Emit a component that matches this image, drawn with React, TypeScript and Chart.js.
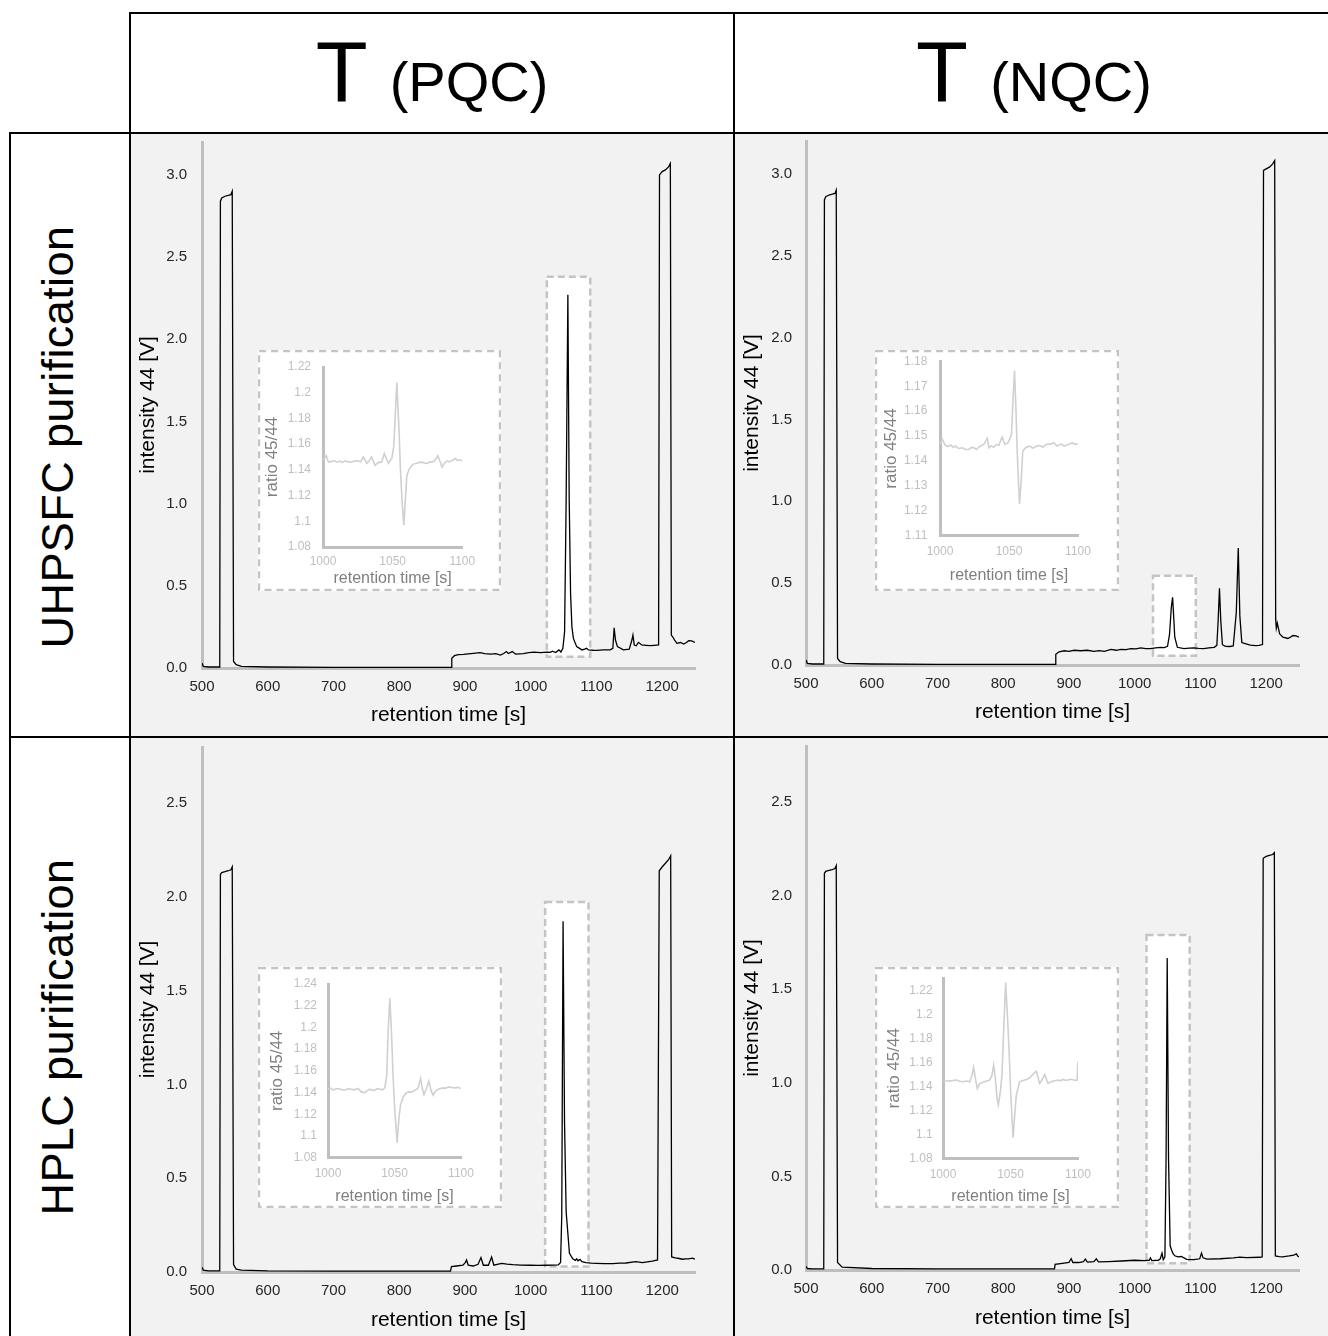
import React, { useEffect, useRef } from 'react';
import { Chart, registerables } from 'chart.js';

Chart.register(...registerables);

const FONT = '"Liberation Sans", Arial, Helvetica, sans-serif';
Chart.defaults.font.family = FONT;

// ---------- column / row labels ----------
const columnMain = ['T', 'T'];
const columnSub = ['(PQC)', '(NQC)'];
const rowLabels = ['UHPSFC purification', 'HPLC purification'];

// ---------- main chromatograms (retention time [s], intensity 44 [V]) ----------
const uhpsfcPqcTime = [500, 502, 510, 527, 528, 530, 535, 540, 544, 546, 548, 552, 560, 600, 700, 800, 879, 880, 884, 890, 898, 905, 913, 923, 930, 939, 947, 954, 959, 963, 966, 972, 977, 989, 997, 1005, 1015, 1025, 1030, 1033, 1038, 1043, 1046, 1049, 1051.6, 1054, 1056.6, 1058.6, 1060.7, 1062.7, 1065, 1070, 1078, 1082, 1085, 1088, 1095, 1101, 1110, 1121, 1125, 1127, 1129, 1132, 1141, 1150, 1154, 1155.6, 1157.6, 1160.6, 1164, 1169, 1175, 1182, 1188, 1194.6, 1196, 1200, 1205, 1210, 1212.5, 1214, 1216, 1219, 1222.6, 1228, 1232.8, 1237, 1240.4, 1245, 1250];
const uhpsfcPqcIntensity = [0.03, 0.01, 0.006, 0.006, 2.84, 2.86, 2.87, 2.875, 2.88, 2.9, 0.04, 0.02, 0.01, 0.006, 0.004, 0.004, 0.004, 0.059, 0.075, 0.081, 0.083, 0.086, 0.089, 0.093, 0.088, 0.085, 0.087, 0.079, 0.088, 0.1, 0.088, 0.1, 0.085, 0.088, 0.093, 0.097, 0.094, 0.097, 0.095, 0.102, 0.094, 0.11, 0.097, 0.12, 0.22, 1.03, 2.27, 1.03, 0.455, 0.252, 0.18, 0.13, 0.11, 0.115, 0.12, 0.11, 0.108, 0.107, 0.11, 0.11, 0.12, 0.245, 0.17, 0.13, 0.11, 0.115, 0.17, 0.2, 0.14, 0.135, 0.156, 0.14, 0.138, 0.136, 0.138, 0.14, 3.0, 3.02, 3.03, 3.05, 3.07, 0.2, 0.19, 0.17, 0.15, 0.155, 0.146, 0.155, 0.166, 0.165, 0.155];

const uhpsfcNqcTime = [500, 502, 510, 527, 528, 530, 535, 540, 544, 546, 548, 552, 560, 600, 700, 800, 879, 880, 885, 893, 900, 908, 918, 928, 938, 946, 954, 964, 972, 979, 987, 994, 1002, 1009, 1017, 1024, 1032, 1039, 1045, 1050, 1053, 1055.7, 1057.7, 1059.7, 1061, 1065, 1075, 1083, 1090, 1097, 1105, 1113, 1121, 1125, 1127, 1129, 1131, 1133.5, 1138, 1145, 1150, 1154.6, 1157.6, 1160, 1163, 1168, 1176, 1184, 1189, 1194.5, 1196, 1200, 1205, 1210, 1213, 1214.5, 1215.5, 1217, 1220.6, 1225.6, 1233, 1237, 1240.6, 1245.6, 1250];
const uhpsfcNqcIntensity = [0.03, 0.01, 0.006, 0.006, 2.84, 2.86, 2.87, 2.875, 2.88, 2.9, 0.04, 0.02, 0.01, 0.006, 0.004, 0.004, 0.004, 0.065, 0.081, 0.087, 0.083, 0.09, 0.087, 0.09, 0.083, 0.088, 0.083, 0.095, 0.09, 0.096, 0.094, 0.1, 0.098, 0.104, 0.1, 0.1, 0.105, 0.108, 0.106, 0.114, 0.185, 0.35, 0.413, 0.27, 0.17, 0.108, 0.1, 0.103, 0.104, 0.101, 0.1, 0.104, 0.108, 0.12, 0.27, 0.468, 0.27, 0.124, 0.114, 0.113, 0.116, 0.32, 0.715, 0.3, 0.137, 0.131, 0.121, 0.118, 0.12, 0.125, 3.02, 3.03, 3.04, 3.06, 3.08, 0.28, 0.225, 0.255, 0.19, 0.17, 0.162, 0.17, 0.18, 0.178, 0.17];

const hplcPqcTime = [500, 502, 510, 527, 528, 530, 535, 540, 544, 546, 548, 552, 560, 600, 700, 800, 878, 879.5, 887, 897, 900.5, 902.5, 905, 912.6, 920, 924.4, 928, 935.6, 940.6, 944, 955.7, 964, 973, 985, 999, 1012, 1024, 1035, 1042, 1045.5, 1047.3, 1049.3, 1051.5, 1054, 1059, 1064, 1068, 1070, 1072, 1075, 1078, 1084, 1092, 1100, 1112, 1125, 1135, 1145, 1160, 1170, 1185, 1193, 1195.6, 1200, 1205, 1210, 1213, 1214.5, 1220, 1226, 1231, 1236, 1240, 1246, 1250];
const hplcPqcIntensity = [0.025, 0.01, 0.006, 0.006, 2.12, 2.13, 2.135, 2.14, 2.145, 2.16, 0.04, 0.015, 0.01, 0.006, 0.005, 0.005, 0.005, 0.029, 0.032, 0.036, 0.05, 0.064, 0.036, 0.032, 0.041, 0.077, 0.036, 0.036, 0.08, 0.036, 0.046, 0.042, 0.039, 0.037, 0.036, 0.035, 0.036, 0.037, 0.038, 0.051, 0.3, 1.871, 0.8, 0.32, 0.1, 0.07, 0.062, 0.07, 0.06, 0.067, 0.055, 0.05, 0.047, 0.046, 0.045, 0.045, 0.047, 0.048, 0.055, 0.05, 0.058, 0.064, 2.14, 2.16, 2.18, 2.2, 2.22, 0.08, 0.075, 0.072, 0.068, 0.07, 0.07, 0.074, 0.068];

const hplcNqcTime = [500, 502, 510, 527, 528, 530, 535, 540, 544, 546, 548, 555, 600, 700, 800, 878, 879, 890, 900, 903.4, 906, 915, 922, 925, 928, 938, 941.6, 945, 960, 980, 1000, 1015, 1022, 1024, 1026, 1036, 1039, 1041.6, 1043.5, 1046, 1047.8, 1049.5, 1051.5, 1054, 1058, 1061, 1066, 1071, 1079, 1090, 1099, 1101.7, 1104, 1110, 1130, 1150, 1160, 1170, 1190, 1194, 1195.5, 1200, 1205, 1210, 1212.5, 1214, 1220, 1225, 1235, 1242, 1246, 1248, 1250];
const hplcNqcIntensity = [0.02, 0.008, 0.006, 0.006, 2.12, 2.13, 2.135, 2.14, 2.145, 2.16, 0.04, 0.015, 0.008, 0.006, 0.006, 0.006, 0.03, 0.035, 0.04, 0.061, 0.04, 0.04, 0.045, 0.058, 0.042, 0.045, 0.06, 0.043, 0.045, 0.048, 0.052, 0.05, 0.052, 0.065, 0.05, 0.052, 0.06, 0.09, 0.055, 0.07, 0.6, 1.667, 0.6, 0.128, 0.09, 0.076, 0.07, 0.072, 0.057, 0.055, 0.06, 0.09, 0.065, 0.058, 0.06, 0.065, 0.069, 0.066, 0.068, 0.07, 2.2, 2.21, 2.215, 2.22, 2.23, 0.075, 0.072, 0.07, 0.075, 0.08, 0.086, 0.075, 0.07];

// zoom windows [tStart, tEnd, vLow, vHigh] marked by dashed boxes
const uhpsfcPqcZoom = [1024.6, 1090.6, 0.069, 2.38];
const uhpsfcNqcZoom = [1027.9, 1093, 0.057, 0.545];
const hplcPqcZoom = [1022, 1088, 0.029, 1.974];
const hplcNqcZoom = [1018, 1083.7, 0.036, 1.79];

// ---------- insets (retention time [s], ratio 45/44) ----------
const uhpsfcPqcInsetTime = [1000, 1001.2, 1002.4, 1003.2, 1004, 1006, 1008, 1010, 1012, 1014, 1016, 1018, 1020, 1022.5, 1025, 1027, 1029, 1031.5, 1033, 1034.9, 1037.3, 1040, 1042, 1044, 1047, 1049.4, 1050.8, 1053, 1054.6, 1055.6, 1056.8, 1058, 1059.2, 1060.2, 1062, 1063.9, 1065.5, 1067, 1069, 1071, 1073, 1075, 1076.5, 1078, 1080, 1082.4, 1083.5, 1085.5, 1087, 1089, 1090.5, 1092, 1093.5, 1095, 1096.5, 1098, 1100];
const uhpsfcPqcInsetRatio = [1.148, 1.149, 1.151, 1.148, 1.146, 1.1465, 1.147, 1.146, 1.1468, 1.1458, 1.147, 1.1462, 1.146, 1.1468, 1.147, 1.1462, 1.150, 1.145, 1.1468, 1.150, 1.1435, 1.146, 1.1458, 1.1526, 1.145, 1.149, 1.158, 1.208, 1.17, 1.14, 1.115, 1.097, 1.118, 1.1356, 1.141, 1.1435, 1.1448, 1.145, 1.1458, 1.146, 1.1452, 1.145, 1.1462, 1.146, 1.147, 1.151, 1.148, 1.142, 1.145, 1.147, 1.1462, 1.147, 1.1478, 1.149, 1.1472, 1.1478, 1.147];

const uhpsfcNqcInsetTime = [1000, 1001.7, 1003.6, 1005.5, 1007.7, 1009.5, 1011.3, 1013.5, 1016, 1018.5, 1021, 1023, 1024.6, 1026.5, 1028.2, 1030, 1031.8, 1034.2, 1035.4, 1037, 1039, 1041, 1042.7, 1045, 1047, 1049.4, 1051.8, 1053, 1054, 1055, 1056, 1057.6, 1058.8, 1060, 1062, 1064, 1065.5, 1067, 1069, 1071, 1072.8, 1074.5, 1076.4, 1078, 1080, 1082.4, 1084.8, 1086.5, 1088.4, 1090, 1092, 1094, 1095.7, 1098, 1100];
const uhpsfcNqcInsetRatio = [1.1467, 1.1487, 1.1464, 1.1458, 1.1464, 1.1455, 1.146, 1.145, 1.1453, 1.1446, 1.1447, 1.1455, 1.1453, 1.1446, 1.1456, 1.1462, 1.1467, 1.1491, 1.1453, 1.146, 1.1456, 1.1466, 1.1464, 1.1496, 1.1467, 1.1473, 1.1507, 1.1653, 1.1763, 1.1613, 1.1427, 1.1227, 1.132, 1.144, 1.1453, 1.1458, 1.1459, 1.1452, 1.1456, 1.1462, 1.1461, 1.1455, 1.1464, 1.1468, 1.1467, 1.1473, 1.146, 1.1466, 1.1467, 1.146, 1.1464, 1.1468, 1.1473, 1.1466, 1.147];

const hplcPqcInsetTime = [1000, 1002, 1003.8, 1005.5, 1007.5, 1010, 1012.6, 1015, 1017.6, 1020, 1022.6, 1025, 1027.6, 1029.5, 1031.4, 1033.3, 1035.2, 1037, 1039, 1041, 1042.7, 1044.2, 1045.2, 1046.5, 1047.7, 1049, 1050.3, 1052, 1053.3, 1054.5, 1056.5, 1058.5, 1060.3, 1062, 1064, 1066, 1067.8, 1069.6, 1070.9, 1072.1, 1074, 1075.9, 1077.4, 1079.1, 1081, 1082.9, 1084.8, 1086.7, 1088.6, 1090.5, 1093, 1095.5, 1098, 1100];
const hplcPqcInsetRatio = [1.1431, 1.1440, 1.1422, 1.1432, 1.1437, 1.1428, 1.1422, 1.1434, 1.1431, 1.1425, 1.1437, 1.1406, 1.14, 1.1418, 1.1431, 1.1420, 1.1422, 1.1436, 1.1431, 1.1425, 1.1443, 1.156, 1.196, 1.2268, 1.196, 1.1529, 1.1222, 1.0938, 1.116, 1.1283, 1.136, 1.1392, 1.1406, 1.1402, 1.1412, 1.1425, 1.1443, 1.1529, 1.1437, 1.1382, 1.1437, 1.1505, 1.1422, 1.1375, 1.1415, 1.1431, 1.1438, 1.1443, 1.1440, 1.1452, 1.1446, 1.1443, 1.1448, 1.1437];

const hplcNqcInsetTime = [1000, 1002.5, 1004.9, 1007.5, 1009.9, 1012.3, 1014.8, 1017.3, 1019.8, 1021.5, 1022.7, 1024.2, 1025.4, 1027.2, 1029, 1030.9, 1032.8, 1034.6, 1036.3, 1037.5, 1038.8, 1040, 1041, 1042.5, 1043.7, 1044.9, 1046.4, 1047.7, 1048.9, 1050.1, 1051.9, 1053.1, 1054.3, 1056.8, 1058.7, 1060.5, 1062.3, 1064.2, 1067.2, 1069.1, 1071.6, 1073.3, 1075.3, 1077.8, 1079.6, 1081.5, 1083.4, 1085.2, 1087, 1088.9, 1090.8, 1092.6, 1094.5, 1096.3, 1098, 1099.3, 1100];
const hplcNqcInsetRatio = [1.1452, 1.1446, 1.1443, 1.1448, 1.1452, 1.1442, 1.1438, 1.1444, 1.1438, 1.1493, 1.1557, 1.1452, 1.1382, 1.1424, 1.1430, 1.1438, 1.1446, 1.1452, 1.1493, 1.1576, 1.1465, 1.13, 1.1244, 1.1355, 1.1493, 1.1853, 1.2264, 1.1992, 1.1715, 1.1355, 1.0972, 1.116, 1.1327, 1.1438, 1.1446, 1.1452, 1.1458, 1.1471, 1.1507, 1.1526, 1.1424, 1.1452, 1.1499, 1.1424, 1.1436, 1.1443, 1.1448, 1.1452, 1.1446, 1.1457, 1.1450, 1.1452, 1.1458, 1.1454, 1.1448, 1.1452, 1.1604];

// ---------- helpers ----------
const toPoints = (xs: number[], ys: number[]) => xs.map((x, i) => ({ x, y: ys[i] }));

const highlightPlugin = {
  id: 'highlightBox',
  beforeDatasetsDraw(chart: any, _args: any, opts: any) {
    const b = opts && opts.box;
    if (!b) return;
    const xs = chart.scales.x;
    const ys = chart.scales.y;
    const l = xs.getPixelForValue(b[0]);
    const r = xs.getPixelForValue(b[1]);
    const t = ys.getPixelForValue(b[3]);
    const btm = ys.getPixelForValue(b[2]);
    const ctx = chart.ctx;
    ctx.save();
    ctx.fillStyle = '#ffffff';
    ctx.fillRect(l, t, r - l, btm - t);
    ctx.setLineDash([7, 4]);
    ctx.strokeStyle = '#c4c4c4';
    ctx.lineWidth = 2.5;
    ctx.strokeRect(l, t, r - l, btm - t);
    ctx.restore();
  },
};

const insetFramePlugin = {
  id: 'insetFrame',
  beforeDraw(chart: any) {
    const ctx = chart.ctx;
    ctx.save();
    ctx.fillStyle = '#ffffff';
    ctx.fillRect(0, 0, chart.width, chart.height);
    ctx.restore();
  },
  afterDraw(chart: any) {
    const ctx = chart.ctx;
    ctx.save();
    ctx.setLineDash([7, 5]);
    ctx.strokeStyle = '#c4c4c4';
    ctx.lineWidth = 2.2;
    ctx.strokeRect(1.1, 1.1, chart.width - 2.2, chart.height - 2.2);
    ctx.restore();
  },
};

const fixX = (h: number) => (s: any) => {
  s.height = h;
  s.paddingLeft = 0;
  s.paddingRight = 0;
  s.paddingTop = 0;
  s.paddingBottom = 0;
};
const fixY = (w: number) => (s: any) => {
  s.width = w;
  s.paddingLeft = 0;
  s.paddingRight = 0;
  s.paddingTop = 0;
  s.paddingBottom = 0;
};

// ---------- panel configurations ----------
const mainPanels = [
  { left: 131, top: 134, w: 602, h: 602, padTop: 8, padRight: 38, yAxisW: 71, xAxisH: 68, xTickPad: 10, yTickPad: 15, xTitlePad: 8.4, yTitlePad: 4.4, yMax: 3.2, time: uhpsfcPqcTime, values: uhpsfcPqcIntensity, box: uhpsfcPqcZoom },
  { left: 735, top: 134, w: 593, h: 602, padTop: 7, padRight: 29, yAxisW: 71, xAxisH: 71, xTickPad: 10, yTickPad: 14, xTitlePad: 11.4, yTitlePad: 4.4, yMax: 3.2, time: uhpsfcNqcTime, values: uhpsfcNqcIntensity, box: uhpsfcNqcZoom },
  { left: 131, top: 738, w: 602, h: 598, padTop: 9, padRight: 38, yAxisW: 71, xAxisH: 64, xTickPad: 10, yTickPad: 15, xTitlePad: 3.4, yTitlePad: 4.4, yMax: 2.8, time: hplcPqcTime, values: hplcPqcIntensity, box: hplcPqcZoom },
  { left: 735, top: 738, w: 593, h: 598, padTop: 8, padRight: 29, yAxisW: 71, xAxisH: 66, xTickPad: 10, yTickPad: 14, xTitlePad: 5.1, yTitlePad: 4.4, yMax: 2.8, time: hplcNqcTime, values: hplcNqcIntensity, box: hplcNqcZoom },
];

const insetPanels = [
  { left: 258, top: 350, w: 243, h: 241, yAxisW: 65, padRight: 38.7, padTop: 17, xAxisH: 44, xTickPad: 7, yTickPad: 12, xTitlePad: 2.4, yTitlePad: 4.4, yMin: 1.08, yMax: 1.22, step: 0.02, time: uhpsfcPqcInsetTime, values: uhpsfcPqcInsetRatio },
  { left: 875, top: 350, w: 244, h: 241, yAxisW: 65, padRight: 41, padTop: 11.3, xAxisH: 55.3, xTickPad: 9, yTickPad: 12.7, xTitlePad: 5.4, yTitlePad: 5.7, yMin: 1.11, yMax: 1.18, step: 0.01, time: uhpsfcNqcInsetTime, values: uhpsfcNqcInsetRatio },
  { left: 258, top: 967, w: 244, h: 241, yAxisW: 70, padRight: 41, padTop: 17, xAxisH: 50.3, xTickPad: 8.4, yTickPad: 11, xTitlePad: 1.7, yTitlePad: 9.1, yMin: 1.08, yMax: 1.24, step: 0.02, time: hplcPqcInsetTime, values: hplcPqcInsetRatio },
  { left: 875, top: 967, w: 244, h: 241, yAxisW: 68, padRight: 41, padTop: 11.3, xAxisH: 49.7, xTickPad: 9.5, yTickPad: 10.3, xTitlePad: 1.7, yTitlePad: 9.1, yMin: 1.08, yMax: 1.23, step: 0.02, time: hplcNqcInsetTime, values: hplcNqcInsetRatio },
];

// ---------- components ----------
function MainChart({ cfg }: { cfg: any }) {
  const ref = useRef<HTMLCanvasElement | null>(null);
  useEffect(() => {
    const canvas = ref.current;
    if (!canvas) return;
    const chart = new Chart(canvas, {
      type: 'line',
      data: {
        datasets: [
          {
            data: toPoints(cfg.time, cfg.values),
            borderColor: '#000000',
            borderWidth: 1.3,
            pointRadius: 0,
            tension: 0,
            fill: false,
          },
        ],
      },
      options: {
        animation: false,
        responsive: false,
        maintainAspectRatio: false,
        devicePixelRatio: 1,
        layout: { padding: { left: 0, top: cfg.padTop, right: cfg.padRight, bottom: 0 } },
        plugins: {
          legend: { display: false },
          tooltip: { enabled: false },
          highlightBox: { box: cfg.box },
        } as any,
        scales: {
          x: {
            type: 'linear',
            min: 500,
            max: 1250,
            grid: { display: false, drawTicks: false },
            border: { display: true, color: '#bfbfbf', width: 3 },
            ticks: {
              stepSize: 100,
              includeBounds: false,
              autoSkip: false,
              maxRotation: 0,
              padding: cfg.xTickPad,
              color: '#262626',
              font: { size: 15, family: FONT },
              callback: (v: any) => String(v),
            },
            title: {
              display: true,
              text: 'retention time [s]',
              color: '#000000',
              font: { size: 21, family: FONT },
              padding: { top: 0, bottom: cfg.xTitlePad },
            },
            afterFit: fixX(cfg.xAxisH),
          },
          y: {
            type: 'linear',
            min: 0,
            max: cfg.yMax,
            grid: { display: false, drawTicks: false },
            border: { display: true, color: '#bfbfbf', width: 3 },
            ticks: {
              stepSize: 0.5,
              includeBounds: false,
              padding: cfg.yTickPad,
              color: '#262626',
              font: { size: 15, family: FONT },
              callback: (v: any) => Number(v).toFixed(1),
            },
            title: {
              display: true,
              text: 'intensity 44 [V]',
              color: '#000000',
              font: { size: 21, family: FONT },
              padding: { top: cfg.yTitlePad, bottom: 0 },
            },
            afterFit: fixY(cfg.yAxisW),
          },
        },
      } as any,
      plugins: [highlightPlugin as any],
    });
    return () => chart.destroy();
  }, [cfg]);
  return (
    <canvas
      ref={ref}
      width={cfg.w}
      height={cfg.h}
      style={{ position: 'absolute', left: cfg.left, top: cfg.top, width: cfg.w, height: cfg.h }}
    />
  );
}

function InsetChart({ cfg }: { cfg: any }) {
  const ref = useRef<HTMLCanvasElement | null>(null);
  useEffect(() => {
    const canvas = ref.current;
    if (!canvas) return;
    const chart = new Chart(canvas, {
      type: 'line',
      data: {
        datasets: [
          {
            data: toPoints(cfg.time, cfg.values),
            borderColor: '#d0d0d0',
            borderWidth: 1.6,
            pointRadius: 0,
            tension: 0,
            fill: false,
          },
        ],
      },
      options: {
        animation: false,
        responsive: false,
        maintainAspectRatio: false,
        devicePixelRatio: 1,
        layout: { padding: { left: 0, top: cfg.padTop, right: cfg.padRight, bottom: 0 } },
        plugins: { legend: { display: false }, tooltip: { enabled: false } },
        scales: {
          x: {
            type: 'linear',
            min: 1000,
            max: 1100,
            grid: { display: false, drawTicks: false },
            border: { display: true, color: '#bfbfbf', width: 3 },
            ticks: {
              stepSize: 50,
              autoSkip: false,
              maxRotation: 0,
              padding: cfg.xTickPad,
              color: '#bfbfbf',
              font: { size: 12, family: FONT },
              callback: (v: any) => String(v),
            },
            title: {
              display: true,
              text: 'retention time [s]',
              color: '#7f7f7f',
              font: { size: 16, family: FONT },
              padding: { top: 0, bottom: cfg.xTitlePad },
            },
            afterFit: fixX(cfg.xAxisH),
          },
          y: {
            type: 'linear',
            min: cfg.yMin,
            max: cfg.yMax,
            grid: { display: false, drawTicks: false },
            border: { display: true, color: '#bfbfbf', width: 3 },
            ticks: {
              stepSize: cfg.step,
              includeBounds: false,
              autoSkip: false,
              padding: cfg.yTickPad,
              color: '#bfbfbf',
              font: { size: 12, family: FONT },
              callback: (v: any) => String(parseFloat(Number(v).toFixed(2))),
            },
            title: {
              display: true,
              text: 'ratio 45/44',
              color: '#7f7f7f',
              font: { size: 17, family: FONT },
              padding: { top: cfg.yTitlePad, bottom: 0 },
            },
            afterFit: fixY(cfg.yAxisW),
          },
        },
      } as any,
      plugins: [insetFramePlugin as any],
    });
    return () => chart.destroy();
  }, [cfg]);
  return (
    <canvas
      ref={ref}
      width={cfg.w}
      height={cfg.h}
      style={{ position: 'absolute', left: cfg.left, top: cfg.top, width: cfg.w, height: cfg.h }}
    />
  );
}

const line = (left: number, top: number, width: number, height: number) => (
  <div style={{ position: 'absolute', left, top, width, height, background: '#000' }} />
);

export default function App() {
  return (
    <div
      style={{
        position: 'absolute',
        left: 0,
        top: 0,
        width: 1328,
        height: 1336,
        overflow: 'hidden',
        background: '#ffffff',
        fontFamily: FONT,
      }}
    >
      {mainPanels.map((p, i) => (
        <div key={'bg' + i} style={{ position: 'absolute', left: p.left, top: p.top, width: p.w, height: p.h, background: '#f2f2f2' }} />
      ))}
      {line(130, 12, 1198, 2)}
      {line(10, 132, 1318, 2)}
      {line(10, 736, 1318, 2)}
      {line(9, 132, 2, 1204)}
      {line(129, 12, 2, 1324)}
      {line(733, 12, 2, 1324)}

      {[0, 1].map((i) => (
        <div
          key={'hdr' + i}
          style={{
            position: 'absolute',
            left: i === 0 ? 130 : 734,
            top: 29,
            width: i === 0 ? 604 : 600,
            textAlign: 'center',
            fontSize: 85,
            lineHeight: 1,
            whiteSpace: 'pre',
            color: '#000',
          }}
        >
          {columnMain[i] + ' '}
          <span style={{ fontSize: 56 }}>{columnSub[i]}</span>
        </div>
      ))}

      {rowLabels.map((t, i) => (
        <div
          key={'row' + i}
          style={{
            position: 'absolute',
            left: 58.3 - 300,
            top: (i === 0 ? 436.7 : 1037) - 30,
            width: 600,
            height: 60,
            lineHeight: '60px',
            fontSize: 45,
            letterSpacing: 0.4,
            textAlign: 'center',
            whiteSpace: 'nowrap',
            color: '#000',
            transform: 'rotate(-90deg)',
          }}
        >
          {t}
        </div>
      ))}

      {mainPanels.map((p, i) => (
        <MainChart key={'main' + i} cfg={p} />
      ))}
      {insetPanels.map((p, i) => (
        <InsetChart key={'inset' + i} cfg={p} />
      ))}
    </div>
  );
}
